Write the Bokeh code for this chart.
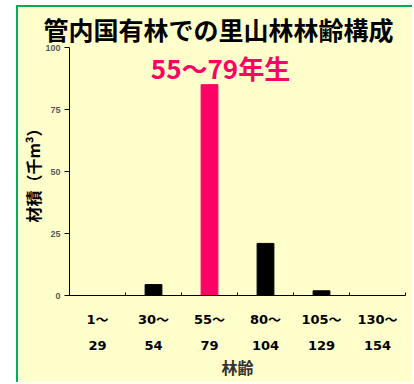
from bokeh.plotting import figure
from bokeh.models import Range1d, FixedTicker, Label, ColumnDataSource
from bokeh.embed import file_html
from bokeh.resources import INLINE

# ---- data ----
age_from = ["1～", "30～", "55～", "80～", "105～", "130～"]
age_to = ["29", "54", "79", "104", "129", "154"]
volume = [0, 4.4, 85, 21, 1.9, 0]
highlight_index = 2
y_ticks = [0, 25, 50, 75, 100]
title_text = "管内国有林での里山林林齢構成"
highlight_label = "55～79年生"
x_title = "林齢"
y_title = "材積（千m³）"

n = len(age_from)
x_pos = list(range(1, n + 1))
boundaries = [i + 0.5 for i in range(n + 1)]
colors = ["#FF0066" if i == highlight_index else "black" for i in range(n)]

src = ColumnDataSource(dict(x=x_pos, top=volume, color=colors))

JP = "Noto Sans CJK JP"
BG = "#FFFFCC"

p = figure(width=396, height=377, output_backend="svg", toolbar_location=None,
           x_range=Range1d(0.5, n + 0.5), y_range=Range1d(0, 100),
           min_border_left=50, min_border_right=9, min_border_top=40,
           min_border_bottom=89,
           background_fill_color=BG, border_fill_color=BG,
           outline_line_color=None, title=title_text)
p.margin = (5, 0, 0, 16)
p.styles = {"border-left": "2px solid #00B050", "border-top": "2px solid #00B050"}

p.title.align = "left"
p.title.text_font = JP
p.title.text_font_size = "25px"
p.title.text_font_style = "bold"
p.title.text_color = "black"
p.title.offset = -26
p.title.standoff = 2

p.vbar(x="x", top="top", width=0.3, color="color", source=src)

p.xgrid.visible = False
p.ygrid.visible = False

xa = p.xaxis[0]
xa.ticker = FixedTicker(ticks=x_pos, minor_ticks=boundaries)
xa.major_label_overrides = {x: f"{a}\n{b}" for x, a, b in zip(x_pos, age_from, age_to)}
xa.major_tick_in = 0
xa.major_tick_out = 0
xa.minor_tick_in = 3
xa.minor_tick_out = 0
xa.minor_tick_line_color = "black"
xa.axis_line_color = "black"
xa.major_label_text_font = "DejaVu Sans, Noto Sans CJK JP"
xa.major_label_text_font_style = "bold"
xa.major_label_text_font_size = "13px"
xa.major_label_text_color = "black"
xa.major_label_text_line_height = 1.75
xa.major_label_standoff = 16
xa.axis_label = x_title
xa.axis_label_text_font = JP
xa.axis_label_text_font_size = "16px"
xa.axis_label_text_font_style = "bold"
xa.axis_label_text_color = "#333333"
xa.axis_label_standoff = -1

ya = p.yaxis[0]
ya.ticker = FixedTicker(ticks=y_ticks)
ya.major_tick_in = 0
ya.major_tick_out = 5
ya.minor_tick_line_color = None
ya.axis_line_color = "black"
ya.major_label_text_font = "Liberation Sans"
ya.major_label_text_font_style = "bold"
ya.major_label_text_font_size = "9px"
ya.major_label_text_color = "#595959"
ya.major_label_standoff = 4
ya.axis_label = y_title
ya.axis_label_text_font = JP
ya.axis_label_text_font_size = "16px"
ya.axis_label_text_font_style = "bold"
ya.axis_label_text_color = "black"
ya.axis_label_standoff = -3

p.add_layout(Label(x=x_pos[highlight_index], y=92, x_offset=11, text=highlight_label,
                   text_align="center", text_baseline="middle",
                   text_color="#FF0066", text_font=JP, text_font_size="26px",
                   text_font_style="bold"))

open("out.html", "w").write(file_html(p, INLINE))
